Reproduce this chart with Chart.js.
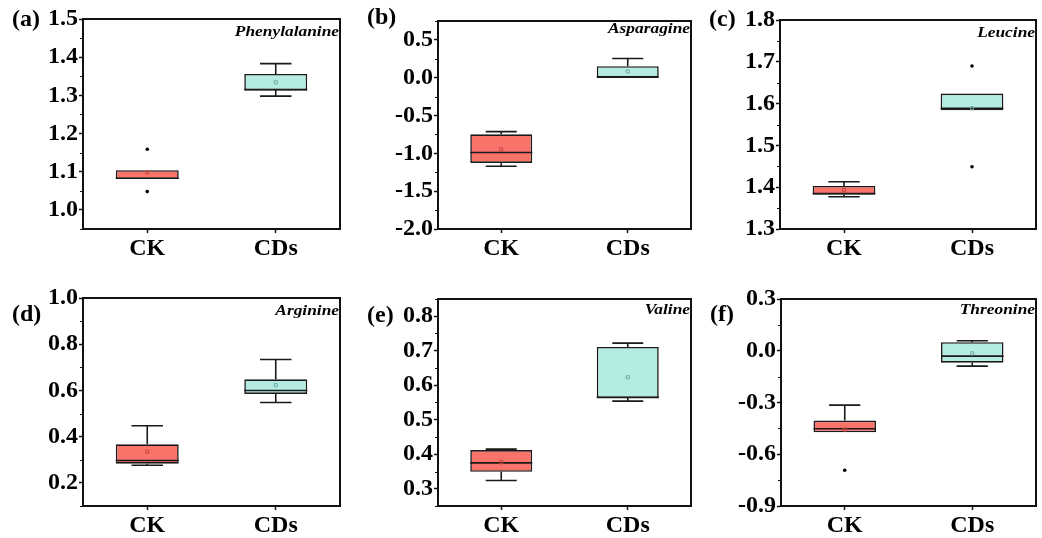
<!DOCTYPE html>
<html>
<head>
<meta charset="utf-8">
<script src="https://cdn.jsdelivr.net/npm/chart.js@4.4.1/dist/chart.umd.min.js"></script>
<style>
  html, body { margin: 0; padding: 0; background: #fff; overflow: hidden; }
  #page { position: relative; width: 1042px; height: 538px; }
  canvas { position: absolute; }
</style>
</head>
<body>
<div id="page"></div>
<script>
// groups on the x axis
const groups = ["CK", "CDs"];
const panelLabels = ["(a)", "(b)", "(c)", "(d)", "(e)", "(f)"];
const aminoAcids = ["Phenylalanine", "Asparagine", "Leucine", "Arginine", "Valine", "Threonine"];

// box statistics per panel: [CK, CDs]
const q1 = [[1.081, 1.313], [-1.126, 0.004], [1.382, 1.584], [0.283, 0.585], [0.349, 0.563], [-0.473, -0.069]];
const q3 = [[1.104, 1.356], [-0.748, 0.153], [1.403, 1.624], [0.367, 0.648], [0.412, 0.711], [-0.405, 0.050]];
const medians = [[1.083, 1.315], [-0.989, 0.008], [1.385, 1.589], [0.297, 0.600], [0.375, 0.565], [-0.452, -0.031]];
const means = [[1.099, 1.334], [-0.946, 0.083], [1.393, 1.589], [0.335, 0.623], [0.377, 0.623], [-0.457, -0.015]];
const whiskerLow = [[1.081, 1.298], [-1.170, 0.003], [1.377, 1.584], [0.276, 0.548], [0.324, 0.554], [-0.473, -0.089]];
const whiskerHigh = [[1.104, 1.383], [-0.713, 0.254], [1.413, 1.624], [0.447, 0.734], [0.415, 0.722], [-0.315, 0.058]];
const outliers = [[[1.159, 1.048], []], [[], []], [[], [1.690, 1.449]], [[], []], [[], []], [[-0.693], []]];

// y axes
const yMin = [0.95, -2.0, 1.3, 0.1, 0.25, -0.9];
const yMax = [1.5, 0.75, 1.8, 1.0, 0.85, 0.3];
const yTicks = [
  [1.0, 1.1, 1.2, 1.3, 1.4, 1.5],
  [-2.0, -1.5, -1.0, -0.5, 0.0, 0.5],
  [1.3, 1.4, 1.5, 1.6, 1.7, 1.8],
  [0.2, 0.4, 0.6, 0.8, 1.0],
  [0.3, 0.4, 0.5, 0.6, 0.7, 0.8],
  [-0.9, -0.6, -0.3, 0.0, 0.3]
];

// plot area of each panel on the page (left, top, right, bottom) and label offsets
const areas = [
  [83, 19, 342, 229], [438, 21, 693, 229], [780, 20, 1038, 229],
  [83, 298, 342, 506], [438, 299, 693, 506], [781, 299, 1038, 506]
];
const labelDy = [1, -3, 0, 17, 17, 16];
const nameDy = [13, 8, 13, 13, 11, 11];

const fillColors = ["#F8736A", "#B4ECE4"];
const meanColors = ["#C8463E", "#6FA9A1"];
const serif = '"Liberation Serif", "Times New Roman", serif';
const PAD_L = 80, PAD_T = 18, PAD_R = 3, PAD_B = 34;

const boxExtras = {
  id: "boxExtras",
  afterDatasetDraw(chart, args, opts) {
    if (args.index !== 2) return;
    const p = opts.panel;
    const { ctx, scales: { y } } = chart;
    const meta = chart.getDatasetMeta(2);
    ctx.save();
    ctx.strokeStyle = "#1a1a1a";
    ctx.lineWidth = 1.6;
    groups.forEach((g, j) => {
      const bar = meta.data[j];
      const cx = bar.x, hw = bar.width / 2, cap = bar.width / 4;
      const yq1 = y.getPixelForValue(q1[p][j]);
      const yq3 = y.getPixelForValue(q3[p][j]);
      const ylo = y.getPixelForValue(whiskerLow[p][j]);
      const yhi = y.getPixelForValue(whiskerHigh[p][j]);
      const ymed = y.getPixelForValue(medians[p][j]);
      ctx.beginPath();
      if (Math.abs(yhi - yq3) > 0.5) {
        ctx.moveTo(cx, yq3); ctx.lineTo(cx, yhi);
        ctx.moveTo(cx - cap, yhi); ctx.lineTo(cx + cap, yhi);
      }
      if (Math.abs(ylo - yq1) > 0.5) {
        ctx.moveTo(cx, yq1); ctx.lineTo(cx, ylo);
        ctx.moveTo(cx - cap, ylo); ctx.lineTo(cx + cap, ylo);
      }
      ctx.moveTo(cx - hw, ymed); ctx.lineTo(cx + hw, ymed);
      ctx.stroke();
    });
    ctx.restore();
  },
  afterDraw(chart, args, opts) {
    const p = opts.panel;
    const { ctx, chartArea: a, scales: { y } } = chart;
    ctx.save();
    // frame top and right
    ctx.strokeStyle = "#111";
    ctx.lineWidth = 2;
    ctx.beginPath();
    ctx.moveTo(a.left, a.top); ctx.lineTo(a.right, a.top); ctx.lineTo(a.right, a.bottom);
    ctx.stroke();
    // minor ticks halfway between majors
    const t = yTicks[p];
    const step = t[1] - t[0];
    ctx.lineWidth = 1;
    ctx.beginPath();
    for (let v = t[0] - step / 2; v <= yMax[p] + 1e-9; v += step) {
      if (v < yMin[p] - 1e-9) continue;
      const py = Math.round(y.getPixelForValue(v)) + 0.5;
      ctx.moveTo(a.left - 3, py); ctx.lineTo(a.left, py);
    }
    ctx.stroke();
    // panel label
    ctx.fillStyle = "#000";
    ctx.font = "bold 24px " + serif;
    ctx.textAlign = "left";
    ctx.textBaseline = "middle";
    ctx.fillText(panelLabels[p], a.left - 71, a.top + labelDy[p]);
    // amino acid name (stretched italic)
    ctx.translate(a.right - 1, a.top + nameDy[p]);
    ctx.scale(1.24, 1);
    ctx.font = "italic bold 14px " + serif;
    ctx.textAlign = "right";
    ctx.fillText(aminoAcids[p], 0, 0);
    ctx.restore();
  }
};

const page = document.getElementById("page");

areas.forEach((ar, p) => {
  const [l, t, r, b] = ar;
  const canvas = document.createElement("canvas");
  canvas.width = r - l + PAD_L + PAD_R;
  canvas.height = b - t + PAD_T + PAD_B;
  canvas.style.left = (l - PAD_L) + "px";
  canvas.style.top = (t - PAD_T) + "px";
  page.appendChild(canvas);

  const outlierPoints = [];
  groups.forEach((g, j) => outliers[p][j].forEach(v => outlierPoints.push({ x: g, y: v })));

  new Chart(canvas.getContext("2d"), {
    type: "bar",
    data: {
      labels: groups,
      datasets: [
        {
          type: "line",
          data: outlierPoints,
          showLine: false,
          pointRadius: 1.8,
          pointBackgroundColor: "#000",
          pointBorderWidth: 0,
          order: 0
        },
        {
          type: "line",
          data: groups.map((g, j) => ({ x: g, y: means[p][j] })),
          showLine: false,
          pointStyle: "rect",
          pointRadius: 2.2,
          pointBackgroundColor: "rgba(0,0,0,0)",
          pointBorderColor: meanColors,
          pointBorderWidth: 1,
          order: 1
        },
        {
          data: groups.map((g, j) => [q1[p][j], q3[p][j]]),
          backgroundColor: fillColors,
          borderColor: "#1a1a1a",
          borderWidth: 1.6,
          borderSkipped: false,
          barPercentage: 0.49,
          categoryPercentage: 1,
          order: 3
        }
      ]
    },
    options: {
      responsive: false,
      animation: false,
      layout: { padding: { top: PAD_T, right: PAD_R, left: 0, bottom: 0 } },
      plugins: {
        legend: { display: false },
        tooltip: { enabled: false },
        boxExtras: { panel: p }
      },
      scales: {
        x: {
          offset: true,
          grid: { display: true, drawOnChartArea: false, offset: false, tickLength: 4, tickColor: "#111", tickWidth: 1.5 },
          border: { display: true, color: "#111", width: 2 },
          ticks: { color: "#000", padding: 1, font: { family: serif, size: 24, weight: "bold" } },
          afterFit: s => { s.height = PAD_B; }
        },
        y: {
          min: yMin[p],
          max: yMax[p],
          afterBuildTicks: s => { s.ticks = yTicks[p].map(v => ({ value: v })); },
          grid: { display: true, drawOnChartArea: false, tickLength: 4, tickColor: "#111", tickWidth: 1.5 },
          border: { display: true, color: "#111", width: 2 },
          ticks: {
            color: "#000",
            padding: 1,
            font: { family: serif, size: 24, weight: "bold" },
            callback: v => v.toFixed(1)
          },
          afterFit: s => { s.width = PAD_L; }
        }
      }
    },
    plugins: [boxExtras]
  });
});
</script>
</body>
</html>
